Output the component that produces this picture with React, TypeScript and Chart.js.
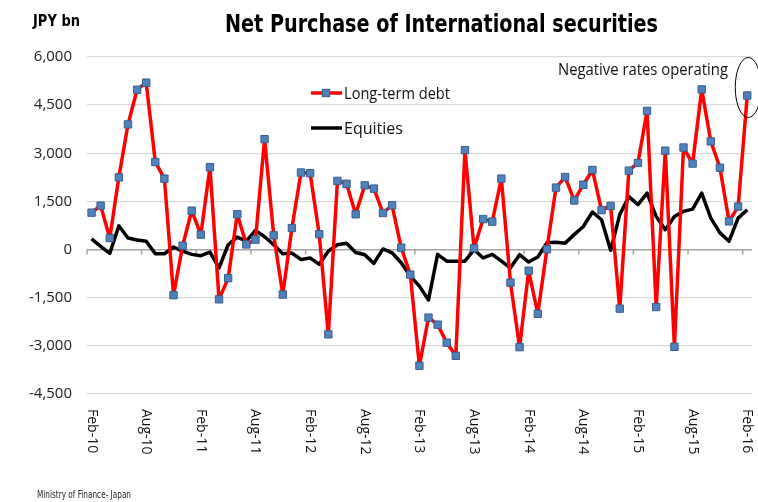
import React, { useEffect, useRef } from "react";
import { Chart, registerables } from "chart.js";

Chart.register(...registerables);

// ---- data ----
const MONTHS = ["Jan", "Feb", "Mar", "Apr", "May", "Jun", "Jul", "Aug", "Sep", "Oct", "Nov", "Dec"];
const N_POINTS = 73; // Feb-10 .. Feb-16
const CATEGORIES: string[] = [];
for (let i = 0; i < N_POINTS; i++) {
  const m = (1 + i) % 12;
  const yy = 10 + Math.floor((1 + i) / 12);
  CATEGORIES.push(`${MONTHS[m]}-${yy}`);
}

const TICK_LABELS = ["Feb-10", "Aug-10", "Feb-11", "Aug-11", "Feb-12", "Aug-12", "Feb-13", "Aug-13", "Feb-14", "Aug-14", "Feb-15", "Aug-15", "Feb-16"];

const LONG_TERM_DEBT = [
  1150, 1370, 360, 2250, 3900, 4980, 5200, 2730, 2210, -1420, 120, 1210,
  465, 2565, -1550, -890, 1100, 160, 310, 3440, 445, -1400, 670, 2400,
  2380, 480, -2640, 2140, 2050, 1100, 2000, 1900, 1140, 1380, 60, -780,
  -3620, -2120, -2340, -2900, -3310, 3100, 40, 950, 870, 2210, -1030, -3040,
  -660, -2000, 10, 1930, 2260, 1530, 2020, 2480, 1230, 1360, -1840, 2460,
  2700, 4320, -1790, 3080, -3030, 3180, 2680, 4990, 3370, 2550, 880, 1340,
  4800,
];

const EQUITIES = [
  330, 100, -120, 740, 360, 300, 260, -130, -130, 80, -50, -150,
  -190, -80, -570, 150, 390, 260, 600, 400, 150, -130, -110, -310,
  -260, -460, -50, 150, 200, -90, -160, -430, 20, -100, -410, -830,
  -1140, -1570, -150, -360, -360, -360, 0, -260, -150, -360, -570, -160,
  -390, -230, 210, 230, 200, 465, 720, 1170, 930, -20, 1090, 1650,
  1400, 1760, 1030, 620, 1030, 1190, 1260, 1760, 980, 520, 260, 980,
  1240,
];

const Y_MIN = -4500;
const Y_MAX = 6000;
const Y_STEP = 1500;

const TITLE = "Net Purchase of International securities";
const UNIT = "JPY bn";
const SOURCE = "Ministry of Finance- Japan";
const NOTE = "Negative rates operating";
const SERIES_NAMES = ["Long-term debt", "Equities"];

const RED = "#ff0000";
const MARKER_FILL = "#4f81bd";
const MARKER_EDGE = "#385d8a";
const NARROW = "'DejaVu Sans Condensed', 'Roboto', 'DejaVu Sans', sans-serif";

function fitText(ctx: CanvasRenderingContext2D, text: string, x: number, y: number, font: string, width: number) {
  ctx.save();
  ctx.font = font;
  const w = ctx.measureText(text).width;
  const s = width / w;
  ctx.translate(x, y);
  ctx.scale(s, 1);
  ctx.textAlign = "left";
  ctx.textBaseline = "alphabetic";
  ctx.fillText(text, 0, 0);
  ctx.restore();
}

const overlay = {
  id: "overlay",
  beforeDatasetsDraw(chart: any) {
    const { ctx, scales } = chart;
    const x = scales.x;
    const y = scales.y;
    const zero = y.getPixelForValue(0);
    const half = (x.getPixelForValue(1) - x.getPixelForValue(0)) / 2;
    ctx.save();
    ctx.strokeStyle = "#a6a6a6";
    ctx.lineWidth = 1.5;
    CATEGORIES.forEach((c, i) => {
      if (TICK_LABELS.includes(c)) {
        const px = x.getPixelForValue(i) - half;
        ctx.beginPath();
        ctx.moveTo(px, zero);
        ctx.lineTo(px, zero + 5);
        ctx.stroke();
      }
    });
    ctx.restore();
  },
  afterDraw(chart: any) {
    const { ctx, scales } = chart;
    const x = scales.x;
    ctx.save();
    ctx.fillStyle = "#111";

    // rotated category labels
    ctx.font = "14px 'Open Sans'";
    ctx.textAlign = "left";
    ctx.textBaseline = "middle";
    CATEGORIES.forEach((c, i) => {
      if (TICK_LABELS.includes(c)) {
        const px = x.getPixelForValue(i);
        ctx.save();
        ctx.translate(px, 409);
        ctx.rotate(Math.PI / 2);
        ctx.fillText(c, 0, 0);
        ctx.restore();
      }
    });

    // title / unit / source
    ctx.fillStyle = "#000";
    fitText(ctx, TITLE, 225, 32, `bold 25px ${NARROW}`, 433);
    fitText(ctx, UNIT, 33, 26, `bold 15px ${NARROW}`, 47);
    ctx.fillStyle = "#222";
    fitText(ctx, SOURCE, 37, 498, `11px ${NARROW}`, 94);

    // legend
    ctx.lineWidth = 3.5;
    ctx.strokeStyle = RED;
    ctx.beginPath();
    ctx.moveTo(311, 93);
    ctx.lineTo(342, 93);
    ctx.stroke();
    ctx.fillStyle = MARKER_FILL;
    ctx.strokeStyle = MARKER_EDGE;
    ctx.lineWidth = 1;
    ctx.fillRect(322.3, 89.3, 7.4, 7.4);
    ctx.strokeRect(322.3, 89.3, 7.4, 7.4);
    ctx.lineWidth = 3.5;
    ctx.strokeStyle = "#000";
    ctx.beginPath();
    ctx.moveTo(311, 128);
    ctx.lineTo(342, 128);
    ctx.stroke();
    ctx.fillStyle = "#111";
    fitText(ctx, SERIES_NAMES[0], 344, 99, "16px 'Open Sans'", 106);
    fitText(ctx, SERIES_NAMES[1], 344, 134, "16px 'Open Sans'", 59);

    // annotation
    fitText(ctx, NOTE, 558, 75, "16.5px 'Open Sans'", 170);
    const meta = chart.getDatasetMeta(0);
    const last = meta.data[meta.data.length - 1];
    ctx.strokeStyle = "#000";
    ctx.lineWidth = 1;
    ctx.beginPath();
    ctx.ellipse(last.x + 1, last.y - 8, 13, 30, 0, 0, Math.PI * 2);
    ctx.stroke();
    ctx.restore();
  },
};

export default function App() {
  const ref = useRef<HTMLCanvasElement>(null);
  useEffect(() => {
    document.body.style.margin = "0";
    const chart = new Chart(ref.current!, {
      type: "line",
      data: {
        labels: CATEGORIES,
        datasets: [
          {
            label: SERIES_NAMES[0],
            data: LONG_TERM_DEBT,
            borderColor: RED,
            borderWidth: 3.5,
            borderJoinStyle: "round",
            tension: 0,
            pointStyle: "rect",
            pointRadius: 5.2,
            pointBackgroundColor: MARKER_FILL,
            pointBorderColor: MARKER_EDGE,
            pointBorderWidth: 1,
          },
          {
            label: SERIES_NAMES[1],
            data: EQUITIES,
            borderColor: "#000",
            borderWidth: 3.5,
            borderJoinStyle: "round",
            tension: 0,
            pointRadius: 0,
          },
        ],
      },
      options: {
        responsive: false,
        animation: false,
        devicePixelRatio: 1,
        layout: { padding: { left: 0, right: 4, top: 57, bottom: 108 } },
        plugins: {
          legend: { display: false },
          tooltip: { enabled: false },
          title: { display: false },
        },
        scales: {
          x: { type: "category", display: false, offset: true },
          y: {
            min: Y_MIN,
            max: Y_MAX,
            afterFit: (s: any) => {
              s.width = 87;
            },
            ticks: {
              stepSize: Y_STEP,
              padding: 15,
              color: "#222",
              font: { family: "'Open Sans'", size: 15 },
            },
            grid: {
              drawTicks: false,
              color: (c: any) => (c.tick && c.tick.value === 0 ? "#a6a6a6" : "#d9d9d9"),
              lineWidth: (c: any) => (c.tick && c.tick.value === 0 ? 1.5 : 1.3),
            },
            border: { display: false },
          },
        },
      },
      plugins: [overlay],
    } as any);
    return () => chart.destroy();
  }, []);
  return <canvas ref={ref} width={758} height={502} style={{ display: "block", width: 758, height: 502 }} />;
}
